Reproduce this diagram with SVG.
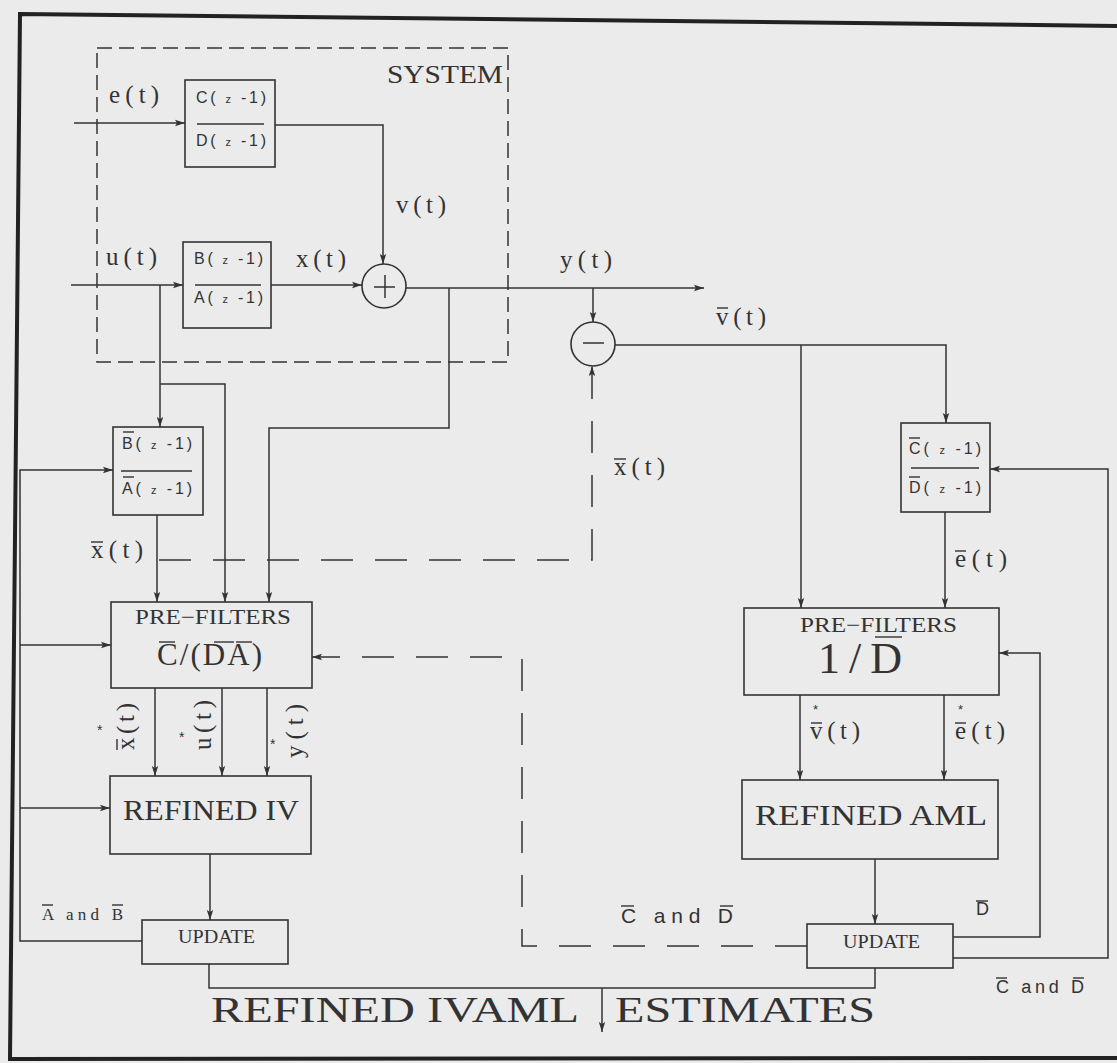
<svg xmlns="http://www.w3.org/2000/svg" width="1117" height="1063" viewBox="0 0 1117 1063">
<defs>
<marker id="ah" viewBox="0 0 10 8" refX="10" refY="4" markerWidth="10" markerHeight="8" markerUnits="userSpaceOnUse" orient="auto">
<path d="M0,0.8 L10,4 L0,7.2 L2,4 Z" fill="#333"/>
</marker>
<style>
.bx{fill:none;stroke:#333;stroke-width:1.6}
.ln{fill:none;stroke:#333;stroke-width:1.5}
.ar{fill:none;stroke:#333;stroke-width:1.5;marker-end:url(#ah)}
.dl{fill:none;stroke:#333;stroke-width:1.5;stroke-dasharray:32 22}
.ov{stroke:#333;stroke-width:1.4}
.sg{font-family:"Liberation Serif",serif;font-size:25px;fill:#333}
.lb{font-family:"Liberation Serif",serif;fill:#333}
.sm{font-family:"Liberation Sans",sans-serif;font-size:16px;fill:#333}
.cd{font-family:"Liberation Sans",sans-serif;fill:#333}
</style>
</defs>
<rect width="1117" height="1063" fill="#ebebeb"/>
<polygon points="20,14 1125,26 1125,1058 10,1059" fill="none" stroke="#222" stroke-width="4"/>

<g id="system">
<rect x="97" y="48" width="411" height="314" fill="none" stroke="#333" stroke-width="1.5" stroke-dasharray="15 7"/>
<text class="lb" x="387" y="83" font-size="26" textLength="116" lengthAdjust="spacingAndGlyphs">SYSTEM</text>
</g>

<g id="noise-filter">
<rect class="bx" x="185" y="80" width="90" height="87"/>
<text class="sm" x="196" y="103" textLength="70" lengthAdjust="spacing">C( <tspan font-size="11">z</tspan> -1)</text>
<line class="ov" x1="197" y1="124" x2="264" y2="124"/>
<text class="sm" x="196" y="146" textLength="70" lengthAdjust="spacing">D( <tspan font-size="11">z</tspan> -1)</text>
</g>

<g id="plant">
<rect class="bx" x="183" y="242" width="88" height="86"/>
<text class="sm" x="194" y="264" textLength="69" lengthAdjust="spacing">B( <tspan font-size="11">z</tspan> -1)</text>
<line class="ov" x1="195" y1="285" x2="261" y2="285"/>
<text class="sm" x="194" y="303" textLength="69" lengthAdjust="spacing">A( <tspan font-size="11">z</tspan> -1)</text>
</g>

<g id="sum">
<circle class="bx" cx="384" cy="286" r="22"/>
<line class="ln" x1="374" y1="287" x2="395" y2="287"/>
<line class="ln" x1="385" y1="275" x2="385" y2="298"/>
</g>

<g id="diff">
<circle class="bx" cx="593" cy="344" r="22"/>
<line class="ln" x1="583" y1="343" x2="604" y2="343"/>
</g>

<g id="aux-model">
<rect class="bx" x="113" y="427" width="90" height="88"/>
<text class="sm" x="122" y="449" textLength="70" lengthAdjust="spacing">B( <tspan font-size="11">z</tspan> -1)</text>
<line class="ov" x1="123" y1="432" x2="134" y2="432"/>
<line class="ov" x1="121" y1="471" x2="192" y2="471"/>
<text class="sm" x="122" y="494" textLength="70" lengthAdjust="spacing">A( <tspan font-size="11">z</tspan> -1)</text>
<line class="ov" x1="123" y1="477" x2="134" y2="477"/>
</g>

<g id="noise-model">
<rect class="bx" x="901" y="423" width="89" height="89"/>
<text class="sm" x="909" y="454" textLength="72" lengthAdjust="spacing">C( <tspan font-size="11">z</tspan> -1)</text>
<line class="ov" x1="909" y1="438" x2="920" y2="438"/>
<line class="ov" x1="911" y1="468" x2="979" y2="468"/>
<text class="sm" x="909" y="493" textLength="72" lengthAdjust="spacing">D( <tspan font-size="11">z</tspan> -1)</text>
<line class="ov" x1="909" y1="477" x2="920" y2="477"/>
</g>

<g id="prefilters-iv">
<rect class="bx" x="111" y="602" width="201" height="86"/>
<text class="lb" x="135" y="624" font-size="21" textLength="156" lengthAdjust="spacingAndGlyphs">PRE−FILTERS</text>
<text class="lb" x="157" y="665" font-size="31" textLength="105" lengthAdjust="spacing">C/(DA)</text>
<line class="ov" x1="159" y1="642" x2="175" y2="642"/>
<line class="ov" x1="214" y1="642" x2="234" y2="642"/>
<line class="ov" x1="236" y1="642" x2="252" y2="642"/>
</g>

<g id="refined-iv">
<rect class="bx" x="110" y="776" width="201" height="78"/>
<text class="lb" x="123" y="820" font-size="30" textLength="176" lengthAdjust="spacingAndGlyphs">REFINED  IV</text>
</g>

<g id="update-iv">
<rect class="bx" x="142" y="920" width="146" height="44"/>
<text class="lb" x="178" y="943" font-size="18" textLength="77" lengthAdjust="spacingAndGlyphs">UPDATE</text>
</g>

<g id="prefilters-aml">
<rect class="bx" x="744" y="608" width="255" height="87"/>
<text class="lb" x="800" y="632" font-size="21" textLength="157" lengthAdjust="spacingAndGlyphs">PRE−FILTERS</text>
<text class="lb" x="818" y="673" font-size="44" textLength="84" lengthAdjust="spacing">1/D</text>
<line class="ov" x1="875" y1="637" x2="902" y2="637"/>
</g>

<g id="refined-aml">
<rect class="bx" x="742" y="780" width="256" height="79"/>
<text class="lb" x="755" y="825" font-size="30" textLength="232" lengthAdjust="spacingAndGlyphs">REFINED  AML</text>
</g>

<g id="update-aml">
<rect class="bx" x="807" y="924" width="146" height="44"/>
<text class="lb" x="843" y="948" font-size="18" textLength="77" lengthAdjust="spacingAndGlyphs">UPDATE</text>
</g>

<g id="connectors">
<path class="ar" d="M74,123 H185"/>
<path class="ar" d="M275,125 H383 V264"/>
<path class="ar" d="M71,285 H183"/>
<path class="ar" d="M271,285 H362"/>
<path class="ar" d="M406,288 H704"/>
<path class="ar" d="M449,288 V428 H269 V602"/>
<path class="ar" d="M160,285 V427"/>
<path class="ar" d="M160,384 H225 V602"/>
<path class="ar" d="M157,515 V602"/>
<path class="ar" d="M142,941 H20 V470 H113"/>
<path class="ar" d="M20,645 H111"/>
<path class="ar" d="M20,808 H110"/>
<path class="ar" d="M155,688 V776"/>
<path class="ar" d="M222,688 V776"/>
<path class="ar" d="M267,688 V776"/>
<path class="ar" d="M210,854 V920"/>
<path class="ln" d="M209,964 V988 H875 V968"/>
<path class="ar" d="M602,988 V1032"/>
<path class="ar" d="M593,288 V322"/>
<path class="ar" d="M615,345 H946 V423"/>
<path class="ar" d="M801,345 V608"/>
<path class="ar" d="M945,512 V608"/>
<path class="ar" d="M800,695 V780"/>
<path class="ar" d="M944,695 V780"/>
<path class="ar" d="M875,859 V924"/>
<path class="ar" d="M953,937 H1040 V653 H999"/>
<path class="ar" d="M953,958 H1108 V469 H990"/>
<path class="dl" d="M159,560 H592 V366" marker-end="url(#ah)"/>
<path class="dl" d="M807,946 H522 V657 H312" marker-end="url(#ah)"/>
</g>

<g id="labels">
<text class="sg" x="109" y="103" textLength="50" lengthAdjust="spacing">e(t)</text>
<text class="sg" x="106" y="265" textLength="51" lengthAdjust="spacing">u(t)</text>
<text class="sg" x="296" y="267" textLength="50" lengthAdjust="spacing">x(t)</text>
<text class="sg" x="396" y="213" textLength="50" lengthAdjust="spacing">v(t)</text>
<text class="sg" x="560" y="268" textLength="52" lengthAdjust="spacing">y(t)</text>
<text class="sg" x="716" y="325" textLength="50" lengthAdjust="spacing">v(t)</text>
<line class="ov" x1="717" y1="308" x2="728" y2="308"/>
<text class="sg" x="91" y="558" textLength="52" lengthAdjust="spacing">x(t)</text>
<line class="ov" x1="91" y1="542" x2="103" y2="542"/>
<text class="sg" x="614" y="475" textLength="51" lengthAdjust="spacing">x(t)</text>
<line class="ov" x1="614" y1="459" x2="626" y2="459"/>
<text class="sg" x="955" y="567" textLength="52" lengthAdjust="spacing">e(t)</text>
<line class="ov" x1="955" y1="551" x2="966" y2="551"/>
<text class="sg" x="810" y="739" font-size="23" textLength="50" lengthAdjust="spacing">v(t)</text>
<line class="ov" x1="811" y1="723" x2="822" y2="723"/>
<text class="cd" x="813" y="714" font-size="13">*</text>
<text class="sg" x="955" y="739" font-size="23" textLength="50" lengthAdjust="spacing">e(t)</text>
<line class="ov" x1="955" y1="723" x2="966" y2="723"/>
<text class="cd" x="958" y="714" font-size="13">*</text>
<text class="sg" transform="translate(134,750) rotate(-90)" textLength="47" lengthAdjust="spacing">x(t)</text>
<line class="ov" x1="117" y1="750" x2="117" y2="739"/>
<text class="cd" x="97" y="735" font-size="14">*</text>
<text class="sg" transform="translate(211,750) rotate(-90)" textLength="50" lengthAdjust="spacing">u(t)</text>
<text class="cd" x="179" y="742" font-size="14">*</text>
<text class="sg" transform="translate(303,758) rotate(-90)" textLength="54" lengthAdjust="spacing">y(t)</text>
<text class="cd" x="270" y="749" font-size="14">*</text>
<text class="lb" x="42" y="920" font-size="17" textLength="81" lengthAdjust="spacing">A and B</text>
<line class="ov" x1="42" y1="905" x2="53" y2="905"/>
<line class="ov" x1="112" y1="905" x2="123" y2="905"/>
<text class="cd" x="621" y="923" font-size="21" textLength="112" lengthAdjust="spacing">C and D</text>
<line class="ov" x1="621" y1="906" x2="634" y2="906"/>
<line class="ov" x1="720" y1="906" x2="733" y2="906"/>
<text class="cd" x="976" y="915" font-size="18">D</text>
<line class="ov" x1="976" y1="901" x2="988" y2="901"/>
<text class="cd" x="996" y="993" font-size="18" textLength="88" lengthAdjust="spacing">C and D</text>
<line class="ov" x1="996" y1="978" x2="1007" y2="978"/>
<line class="ov" x1="1073" y1="978" x2="1084" y2="978"/>
<text class="lb" x="211" y="1022" font-size="36" textLength="368" lengthAdjust="spacingAndGlyphs">REFINED  IVAML</text>
<text class="lb" x="615" y="1022" font-size="36" textLength="260" lengthAdjust="spacingAndGlyphs">ESTIMATES</text>
</g>
</svg>
